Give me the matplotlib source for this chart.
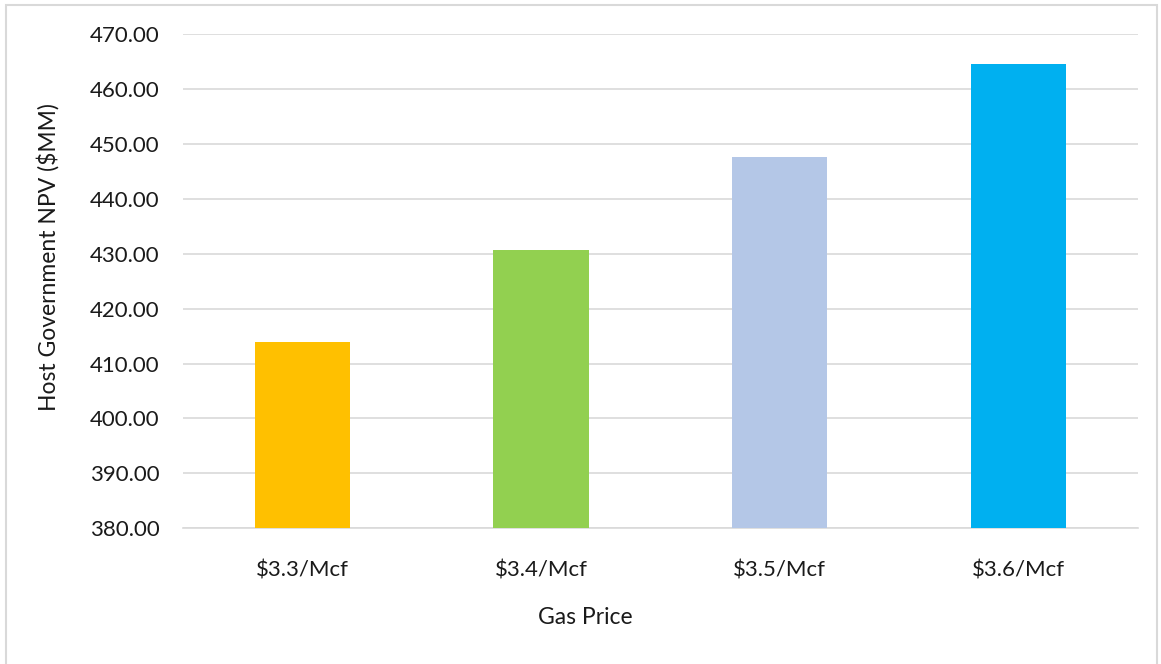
import matplotlib
matplotlib.use('Agg')
import matplotlib.pyplot as plt
from matplotlib.patches import Rectangle

prices = ['$3.3/Mcf', '$3.4/Mcf', '$3.5/Mcf', '$3.6/Mcf']
npv = [413.9, 430.7, 447.6, 464.6]
bar_colors = ['#ffc000', '#92d050', '#b4c7e7', '#00b0f0']
y_ticks = [380, 390, 400, 410, 420, 430, 440, 450, 460, 470]

plt.rcParams['font.family'] = ['Lato', 'DejaVu Sans']

fig = plt.figure(figsize=(11.61, 6.64), dpi=100)
ax = fig.add_axes([0.1576, 0.2044, 0.8224, 0.7444])

ax.bar(range(len(prices)), npv, width=0.40, color=bar_colors, zorder=3)

ax.set_ylim(380, 470)
ax.set_xlim(-0.5, len(prices) - 0.5)
ax.set_yticks(y_ticks)
ax.set_yticklabels(['%.2f' % v for v in y_ticks])
ax.set_xticks(range(len(prices)))
ax.set_xticklabels(prices)
ax.yaxis.grid(True, color='#d9d9d9', linewidth=1.2, zorder=0)

for side in ['top', 'right', 'left']:
    ax.spines[side].set_visible(False)
ax.spines['bottom'].set_color('#d9d9d9')
ax.spines['bottom'].set_linewidth(1.2)
ax.tick_params(axis='both', length=0, labelsize=16, colors='#1a1a1a')
ax.tick_params(axis='x', pad=23)
ax.tick_params(axis='y', pad=17)

ax.set_xlabel('Gas Price', fontsize=16.5, color='#1a1a1a', va='center')
ax.set_ylabel('Host Government NPV ($MM)', fontsize=16.5, color='#1a1a1a', va='center')
ax.xaxis.set_label_coords(0.421, -0.1796)
ax.yaxis.set_label_coords(-0.1414, 0.549)

# chart area border
fig.patches.append(Rectangle((6 / 1161, -0.02), 1151 / 1161, 1 - 5 / 664 + 0.02,
                             transform=fig.transFigure, fill=False,
                             edgecolor='#d9d9d9', linewidth=1.5))

fig.savefig('out.png', dpi=100)
